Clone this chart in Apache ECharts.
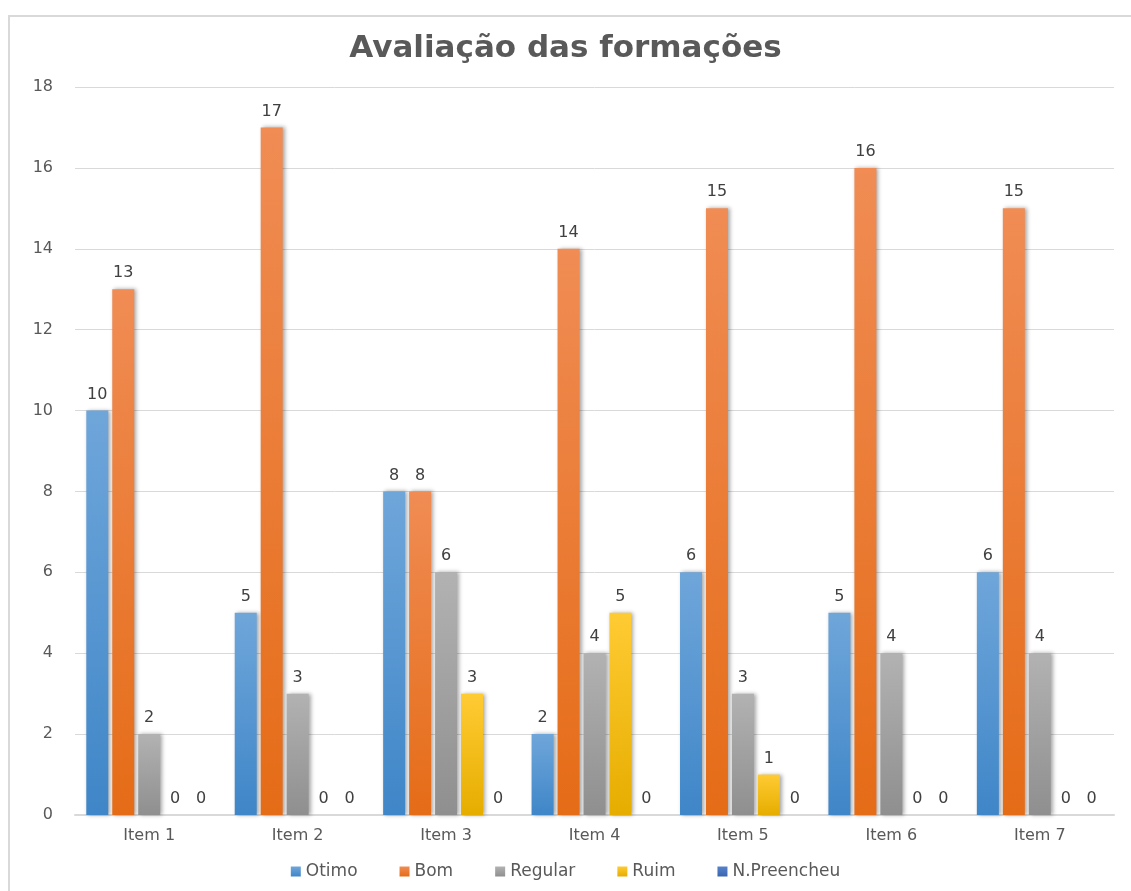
<!DOCTYPE html>
<html>
<head>
<meta charset="utf-8">
<script src="https://cdn.jsdelivr.net/npm/echarts@6/dist/echarts.min.js"></script>
<style>
  html, body { margin: 0; padding: 0; background: #fff; }
  #chart { width: 1131px; height: 891px; }
</style>
</head>
<body>
<div id="chart"></div>
<script>
// dados
var categories = ['Item 1', 'Item 2', 'Item 3', 'Item 4', 'Item 5', 'Item 6', 'Item 7'];
var otimo = [10, 5, 8, 2, 6, 5, 6];
var bom = [13, 17, 8, 14, 15, 16, 15];
var regular = [2, 3, 6, 4, 3, 4, 4];
var ruim = [0, 0, 3, 5, 1, 0, 0];
var naoPreencheu = [0, 0, 0, 0, 0, 0, 0];

var chart = echarts.init(document.getElementById('chart'));

function grad(top, bottom) {
  return new echarts.graphic.LinearGradient(0, 0, 0, 1, [
    { offset: 0, color: top },
    { offset: 1, color: bottom }
  ]);
}

function barSeries(name, data, top, bottom) {
  return {
    name: name,
    type: 'bar',
    data: data,
    barWidth: 22,
    barGap: '18%',
    itemStyle: {
      color: grad(top, bottom),
      shadowColor: 'rgba(0,0,0,0.35)',
      shadowBlur: 4,
      shadowOffsetX: 2,
      shadowOffsetY: 0
    },
    label: {
      show: true,
      position: 'top',
      distance: 8,
      color: '#404040',
      fontSize: 16,
      fontFamily: 'DejaVu Sans'
    }
  };
}

chart.setOption({
  animation: false,
  color: ['#5B9BD5', '#ED7D31', '#A5A5A5', '#FFC000', '#4472C4'],
  title: {
    text: 'Avaliação das formações',
    left: 'center',
    top: 28,
    textStyle: {
      fontFamily: 'DejaVu Sans',
      fontSize: 31,
      fontWeight: 'bold',
      color: '#595959'
    }
  },
  graphic: [{
    type: 'rect',
    shape: { x: 9, y: 16, width: 1140, height: 900 },
    style: { fill: 'none', stroke: '#d9d9d9', lineWidth: 2 },
    z: -1
  }],
  legend: {
    bottom: 6,
    left: 'center',
    itemWidth: 10,
    itemHeight: 10,
    itemGap: 42,
    icon: 'rect',
    textStyle: { color: '#595959', fontSize: 17, fontFamily: 'DejaVu Sans' },
    data: ['Otimo', 'Bom', 'Regular', 'Ruim', 'N.Preencheu']
  },
  grid: { left: 75, right: 17, top: 87, bottom: 76 },
  xAxis: {
    type: 'category',
    data: categories,
    axisLine: { lineStyle: { color: '#d9d9d9', width: 2 } },
    axisTick: { show: false },
    axisLabel: { color: '#595959', fontSize: 16, margin: 13, fontFamily: 'DejaVu Sans' }
  },
  yAxis: {
    type: 'value',
    min: 0,
    max: 18,
    interval: 2,
    axisLine: { show: false },
    axisTick: { show: false },
    axisLabel: { color: '#595959', fontSize: 16, margin: 22, align: 'right', fontFamily: 'DejaVu Sans' },
    splitLine: { lineStyle: { color: '#d9d9d9', width: 1 } }
  },
  series: [
    barSeries('Otimo', otimo, '#6fa6da', '#3f86c8'),
    barSeries('Bom', bom, '#f08c54', '#e56c17'),
    barSeries('Regular', regular, '#b2b2b2', '#8f8f8f'),
    barSeries('Ruim', ruim, '#ffcb33', '#e6ad00'),
    barSeries('N.Preencheu', naoPreencheu, '#5682cc', '#3a64b0')
  ]
});

window.addEventListener('resize', function () {
  chart.resize();
});
</script>
</body>
</html>
